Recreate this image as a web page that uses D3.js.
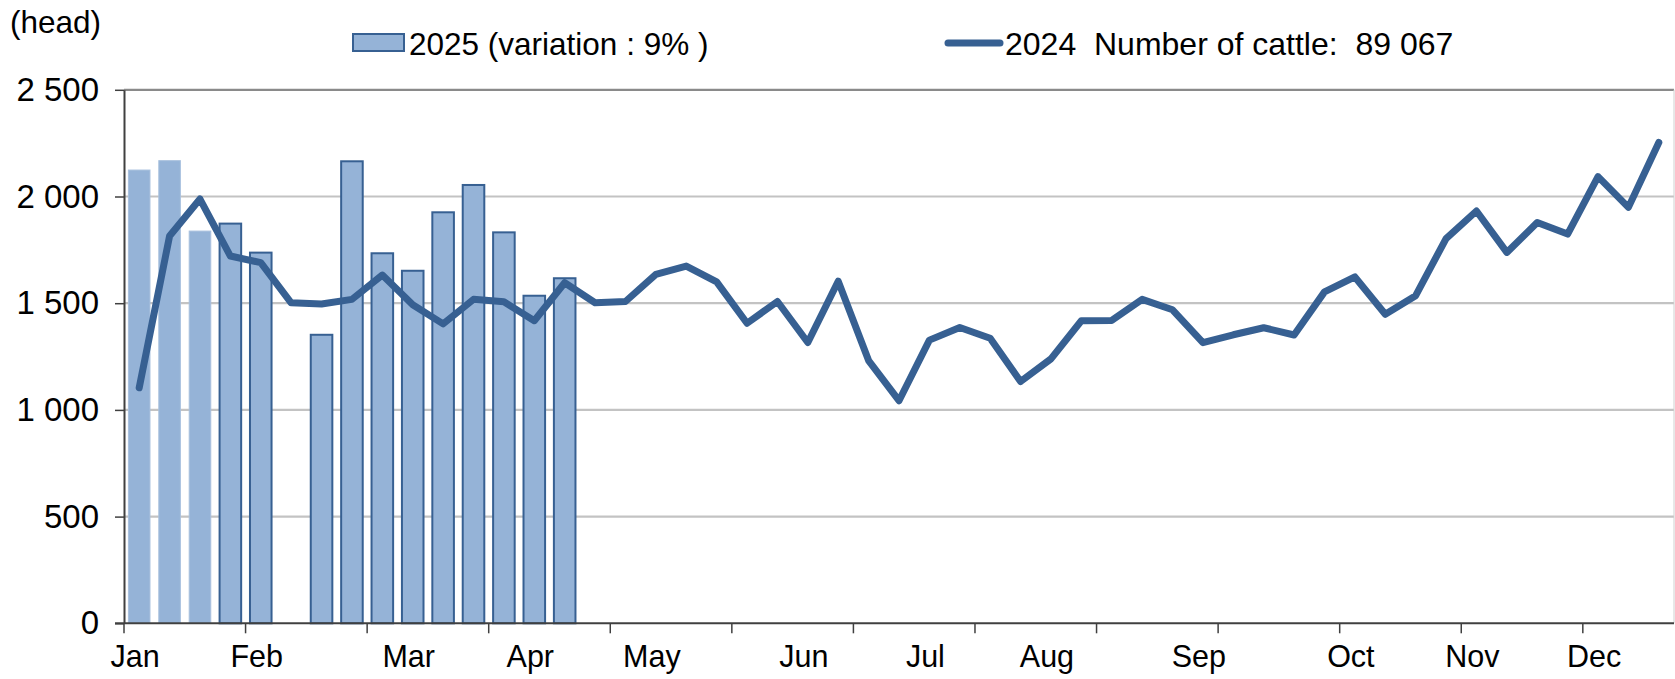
<!DOCTYPE html>
<html>
<head>
<meta charset="utf-8">
<script src="https://cdn.jsdelivr.net/npm/d3@7"></script>
<style>
  body { margin: 0; background: #fff; }
  text { font-family: "Liberation Sans", Arial, sans-serif; fill: #000; }
</style>
</head>
<body>
<svg id="chart" width="1675" height="679"></svg>
<script>
// weekly slaughter, head
var weeks = d3.range(1, 52);
var values2025 = [2124, 2168, 1838, 1873, 1737, null, 1352, 2165, 1734, 1652, 1926, 2054, 1832, 1535, 1617];
var values2024 = [1104, 1815, 1988, 1721, 1690, 1502, 1496, 1518, 1632, 1493, 1403, 1518, 1507, 1418, 1596,
                  1502, 1508, 1635, 1674, 1600, 1406, 1508, 1316, 1603, 1231, 1043, 1327, 1386, 1336, 1133,
                  1239, 1418, 1419, 1518, 1469, 1315, 1352, 1385, 1351, 1553, 1623, 1448, 1535, 1803, 1932,
                  1738, 1878, 1824, 2093, 1949, 2253];
var months = ["Jan", "Feb", "Mar", "Apr", "May", "Jun", "Jul", "Aug", "Sep", "Oct", "Nov", "Dec"];
var monthWeeks = [1, 5, 10, 14, 18, 23, 27, 31, 36, 41, 45, 49];
var yTicks = [0, 500, 1000, 1500, 2000, 2500];
var legend2025 = "2025 (variation : 9% )";
var legend2024 = "2024  Number of cattle:  89 067";
var unitLabel = "(head)";

var svg = d3.select("#chart");
// note: "top" is taken by window.top, so plot edges get a prefix
var pLeft = 124, pRight = 1674, pTop = 89.8, pBottom = 623.3;
var dark = "#376092", light = "#95b3d7";

var x = d3.scaleBand().domain(weeks).range([pLeft, pRight]).paddingInner(0.29).paddingOuter(0.145);
var y = d3.scaleLinear().domain([0, 2500]).range([pBottom, pTop]);
var fmt = d3.formatLocale({ decimal: ".", thousands: " ", grouping: [3], currency: ["", ""] }).format(",d");
var edge = function(w) { return x(w) - x.step() * x.paddingInner() / 2; };
var mid = function(w) { return x(w) + x.bandwidth() / 2; };

// gridlines
svg.append("g").selectAll("line")
  .data(yTicks.filter(function(d) { return d > 0; }))
  .enter().append("line")
    .attr("x1", pLeft).attr("x2", pRight)
    .attr("y1", function(d) { return y(d); }).attr("y2", function(d) { return y(d); })
    .attr("stroke", function(d) { return d == 2500 ? "#8a8a8a" : "#c3c3c3"; })
    .attr("stroke-width", 2.2);

// right border of plot area
svg.append("line")
  .attr("x1", pRight).attr("x2", pRight).attr("y1", pTop).attr("y2", pBottom)
  .attr("stroke", "#d0d0d0").attr("stroke-width", 1);

// 2025 bars (first 3 weeks drawn paler, no outline, like the original)
svg.append("g").selectAll("rect")
  .data(values2025.map(function(v, i) { return { week: weeks[i], value: v, i: i }; })
    .filter(function(d) { return d.value != null; }))
  .enter().append("rect")
    .attr("x", function(d) { return x(d.week); })
    .attr("width", x.bandwidth())
    .attr("y", function(d) { return y(d.value); })
    .attr("height", function(d) { return pBottom - y(d.value); })
    .attr("fill", light)
    .attr("stroke", function(d) { return d.i < 3 ? "#a9c1de" : dark; })
    .attr("stroke-width", function(d) { return d.i < 3 ? 1 : 2; });

// 2024 line
var line = d3.line()
  .x(function(d, i) { return mid(weeks[i]); })
  .y(function(d) { return y(d); });

svg.append("path")
  .datum(values2024)
  .attr("d", line)
  .attr("fill", "none")
  .attr("stroke", dark)
  .attr("stroke-width", 7)
  .attr("stroke-linejoin", "round")
  .attr("stroke-linecap", "round");

// y axis
var yAxis = svg.append("g")
  .attr("transform", "translate(" + pLeft + ",0)")
  .call(d3.axisLeft(y).tickValues(yTicks).tickFormat(fmt).tickSize(9).tickSizeOuter(0).tickPadding(16));
yAxis.select(".domain").attr("stroke", "#404040").attr("stroke-width", 2);
yAxis.selectAll(".tick line").attr("stroke", "#404040").attr("stroke-width", 1.5);
yAxis.selectAll(".tick text").style("font-size", "33px").attr("fill", "#000");

// x axis line
svg.append("line")
  .attr("x1", pLeft - 9).attr("x2", pRight).attr("y1", pBottom).attr("y2", pBottom)
  .attr("stroke", "#404040").attr("stroke-width", 2);

// tick marks every 4 weeks
svg.append("g").selectAll("line")
  .data(weeks.filter(function(w) { return (w - 1) % 4 == 0; }))
  .enter().append("line")
    .attr("x1", edge).attr("x2", edge)
    .attr("y1", pBottom).attr("y2", pBottom + 10)
    .attr("stroke", "#404040").attr("stroke-width", 1.5);

// month labels
svg.append("g").selectAll("text")
  .data(months)
  .enter().append("text")
    .attr("x", function(d, i) { return mid(monthWeeks[i]) - 4; })
    .attr("y", 667)
    .attr("text-anchor", "middle")
    .style("font-size", "30.5px")
    .text(function(d) { return d; });

// unit label
svg.append("text")
  .attr("x", 10).attr("y", 33)
  .style("font-size", "31.5px")
  .text(unitLabel);

// legend
var lg = svg.append("g");
lg.append("rect")
  .attr("x", 353).attr("y", 34).attr("width", 51).attr("height", 17)
  .attr("fill", light).attr("stroke", dark).attr("stroke-width", 2);
lg.append("text")
  .attr("x", 409).attr("y", 55)
  .style("font-size", "31.5px")
  .text(legend2025);
lg.append("line")
  .attr("x1", 948).attr("x2", 1000).attr("y1", 43).attr("y2", 43)
  .attr("stroke", dark).attr("stroke-width", 7).attr("stroke-linecap", "round");
lg.append("text")
  .attr("x", 1005).attr("y", 55)
  .style("font-size", "32px")
  .style("white-space", "pre")
  .text(legend2024);
</script>
</body>
</html>
